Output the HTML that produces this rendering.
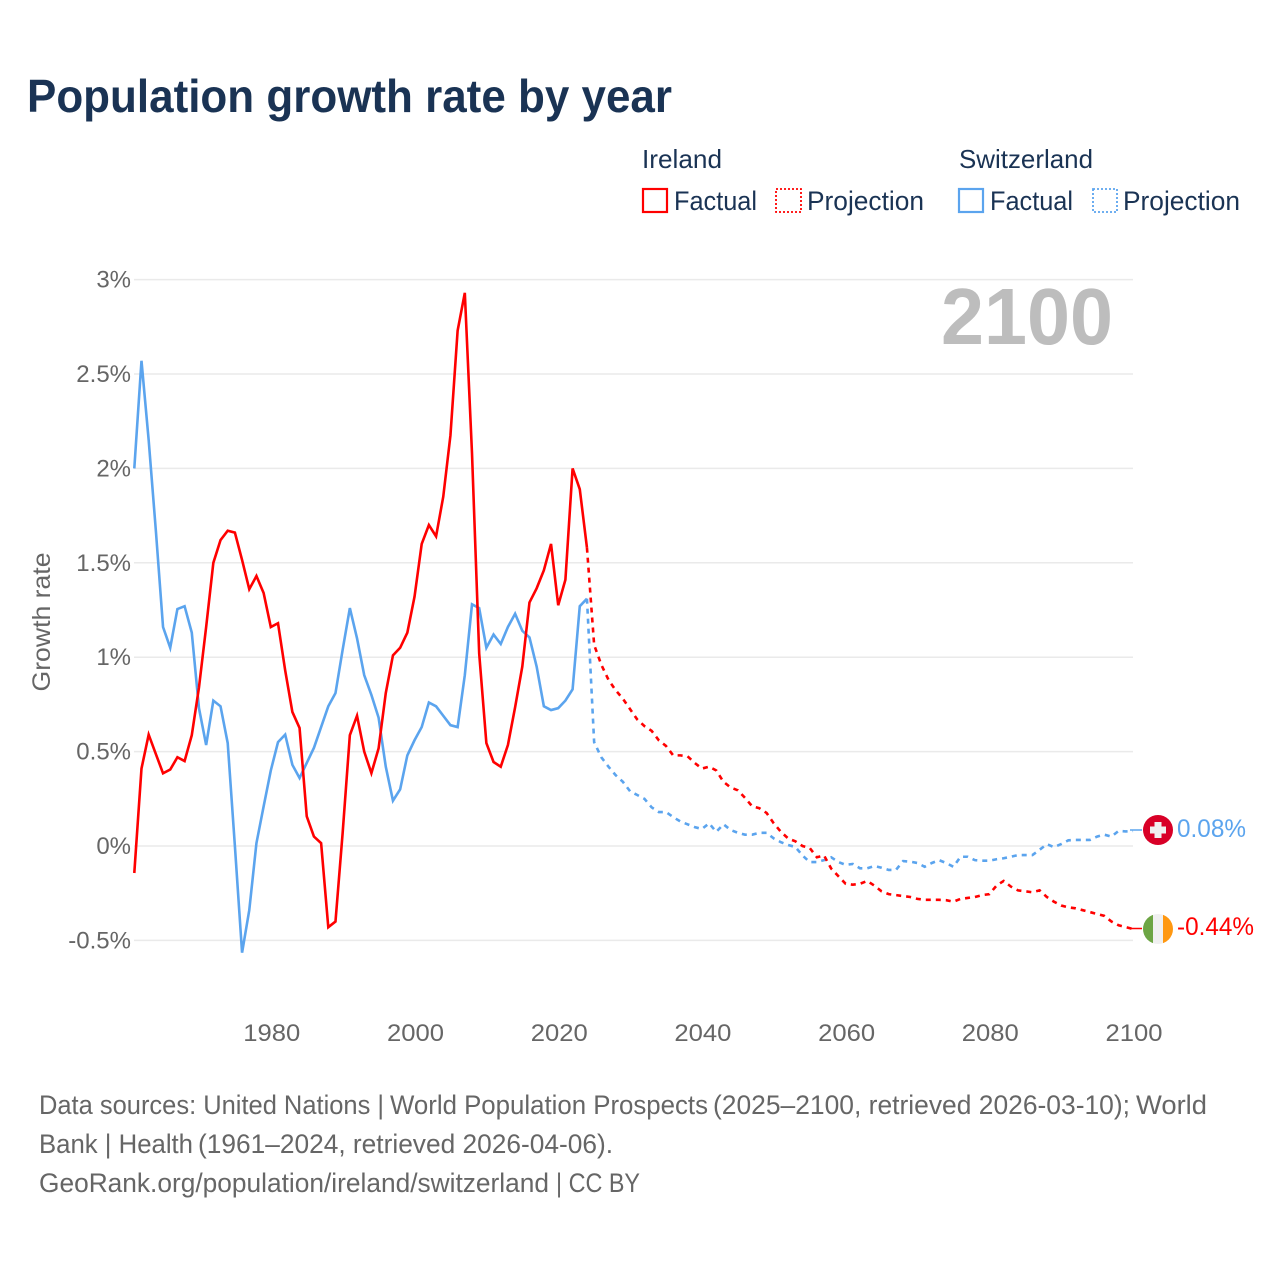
<!DOCTYPE html>
<html lang="en">
<head>
<meta charset="utf-8">
<title>Population growth rate by year</title>
<style>
html,body{margin:0;padding:0;background:#fff;}
svg{display:block;}
text{font-family:"Liberation Sans",sans-serif;}
</style>
</head>
<body>
<svg id="chart" width="1280" height="1280" viewBox="0 0 1280 1280" xmlns="http://www.w3.org/2000/svg">
  <rect x="0" y="0" width="1280" height="1280" fill="#ffffff"/>
  <text x="27" y="112" font-size="46" font-weight="700" fill="#1a3354" textLength="645" lengthAdjust="spacingAndGlyphs">Population growth rate by year</text>

  <text x="642" y="168" font-size="26" fill="#1a3354" textLength="80" lengthAdjust="spacingAndGlyphs">Ireland</text>
  <rect x="643" y="189" width="24" height="23" fill="none" stroke="#ff0000" stroke-width="2.2"/>
  <text x="674" y="210" font-size="27" fill="#1a3354" textLength="83" lengthAdjust="spacingAndGlyphs">Factual</text>
  <rect x="776" y="189" width="25" height="23" fill="none" stroke="#ff0000" stroke-width="1.8" stroke-dasharray="2 2"/>
  <text x="807" y="210" font-size="27" fill="#1a3354" textLength="117" lengthAdjust="spacingAndGlyphs">Projection</text>

  <text x="959" y="168" font-size="26" fill="#1a3354" textLength="134" lengthAdjust="spacingAndGlyphs">Switzerland</text>
  <rect x="959" y="189" width="24" height="23" fill="none" stroke="#5ba4ee" stroke-width="2.2"/>
  <text x="990" y="210" font-size="27" fill="#1a3354" textLength="83" lengthAdjust="spacingAndGlyphs">Factual</text>
  <rect x="1093" y="189" width="24" height="23" fill="none" stroke="#5ba4ee" stroke-width="1.8" stroke-dasharray="2 2"/>
  <text x="1123" y="210" font-size="27" fill="#1a3354" textLength="117" lengthAdjust="spacingAndGlyphs">Projection</text>

  <g id="grid"></g>
  <g id="yticks"></g>
  <g id="xticks"></g>

  <text transform="translate(50 622) rotate(-90)" text-anchor="middle" font-size="25" fill="#666666" textLength="139" lengthAdjust="spacingAndGlyphs">Growth rate</text>
  <text x="941" y="344" font-size="80" font-weight="700" fill="#bdbdbd" textLength="172" lengthAdjust="spacingAndGlyphs">2100</text>

  <g id="series"></g>

  <g>
    <line x1="1130" y1="830" x2="1142" y2="830" stroke="#5ba4ee" stroke-width="1.5"/>
    <circle cx="1158" cy="830" r="15" fill="#d80027"/>
    <rect x="1150" y="826.5" width="16" height="7" fill="#f0f0f0"/>
    <rect x="1154.5" y="822" width="7" height="16" fill="#f0f0f0"/>
  </g>
  <text x="1177" y="837" font-size="25" fill="#5ba4ee" textLength="69" lengthAdjust="spacingAndGlyphs">0.08%</text>

  <g>
    <line x1="1130" y1="928.5" x2="1142" y2="928.5" stroke="#ff0000" stroke-width="1.5"/>
    <clipPath id="ie-clip"><circle cx="1158" cy="929" r="15"/></clipPath>
    <g clip-path="url(#ie-clip)">
      <rect x="1143" y="914" width="10" height="30" fill="#6da544"/>
      <rect x="1153" y="914" width="10" height="30" fill="#f0f0f0"/>
      <rect x="1163" y="914" width="10" height="30" fill="#ff9811"/>
    </g>
  </g>
  <text x="1177" y="935" font-size="25" fill="#ff0000" textLength="77" lengthAdjust="spacingAndGlyphs">-0.44%</text>

  <text x="39" y="1114" font-size="27" fill="#666666"><tspan x="39" textLength="345" lengthAdjust="spacingAndGlyphs">Data sources: United Nations |</tspan> <tspan x="390" textLength="318" lengthAdjust="spacingAndGlyphs">World Population Prospects</tspan> <tspan x="713" textLength="417" lengthAdjust="spacingAndGlyphs">(2025–2100, retrieved 2026-03-10);</tspan> <tspan x="1136" textLength="71" lengthAdjust="spacingAndGlyphs">World</tspan></text>
  <text x="39" y="1153" font-size="27" fill="#666666"><tspan x="39" textLength="154" lengthAdjust="spacingAndGlyphs">Bank | Health</tspan> <tspan x="198" textLength="415" lengthAdjust="spacingAndGlyphs">(1961–2024, retrieved 2026-04-06).</tspan></text>
  <text x="39" y="1192" font-size="27" fill="#666666"><tspan x="39" textLength="510" lengthAdjust="spacingAndGlyphs">GeoRank.org/population/ireland/switzerland</tspan> <tspan x="556" textLength="84" lengthAdjust="spacingAndGlyphs">| CC BY</tspan></text>
</svg>
<script>
const factualStartYear = 1961;
const projectionStartYear = 2025;
const xTickValues = [1980, 2000, 2020, 2040, 2060, 2080, 2100];
const xTickLabels = ["1980", "2000", "2020", "2040", "2060", "2080", "2100"];
const yTickValues = [-0.5, 0, 0.5, 1, 1.5, 2, 2.5, 3];
const yTickLabels = ["-0.5%", "0%", "0.5%", "1%", "1.5%", "2%", "2.5%", "3%"];

const irelandFactual = [-0.143,0.41,0.59,0.487,0.385,0.405,0.47,0.45,0.587,0.84,1.16,1.5,1.62,1.67,1.66,1.515,1.36,1.43,1.34,1.16,1.18,0.93,0.71,0.625,0.157,0.05,0.015,-0.43,-0.40,0.07,0.587,0.69,0.50,0.386,0.517,0.81,1.01,1.05,1.13,1.32,1.6,1.70,1.64,1.85,2.175,2.73,2.93,2.08,1.02,0.545,0.445,0.42,0.535,0.735,0.95,1.29,1.365,1.46,1.60,1.275,1.41,2.0,1.89,1.58];

const switzerlandFactual = [2.0,2.57,2.15,1.67,1.16,1.05,1.255,1.27,1.13,0.73,0.535,0.77,0.74,0.545,0.0,-0.565,-0.34,0.015,0.21,0.40,0.55,0.59,0.43,0.36,0.44,0.52,0.63,0.74,0.81,1.04,1.26,1.10,0.905,0.80,0.68,0.42,0.24,0.30,0.48,0.56,0.63,0.76,0.74,0.69,0.64,0.63,0.905,1.28,1.26,1.05,1.12,1.07,1.16,1.23,1.14,1.105,0.95,0.74,0.72,0.73,0.77,0.83,1.27,1.31];

const irelandProjection = [1.065,0.96,0.88,0.825,0.78,0.725,0.67,0.635,0.61,0.56,0.53,0.48,0.48,0.475,0.44,0.41,0.42,0.40,0.34,0.31,0.295,0.255,0.21,0.20,0.175,0.12,0.075,0.04,0.025,0.0,-0.01,-0.06,-0.05,-0.12,-0.16,-0.2,-0.205,-0.2,-0.185,-0.21,-0.24,-0.255,-0.26,-0.265,-0.27,-0.28,-0.285,-0.285,-0.285,-0.287,-0.295,-0.28,-0.275,-0.27,-0.26,-0.255,-0.21,-0.185,-0.215,-0.235,-0.24,-0.245,-0.235,-0.27,-0.295,-0.315,-0.325,-0.33,-0.34,-0.35,-0.36,-0.37,-0.40,-0.42,-0.43,-0.44];

const switzerlandProjection = [0.55,0.47,0.42,0.375,0.34,0.29,0.27,0.25,0.205,0.18,0.18,0.153,0.13,0.115,0.10,0.09,0.12,0.075,0.115,0.085,0.07,0.06,0.06,0.07,0.07,0.04,0.02,0.005,-0.005,-0.05,-0.085,-0.085,-0.075,-0.06,-0.085,-0.10,-0.095,-0.118,-0.118,-0.106,-0.115,-0.127,-0.127,-0.08,-0.083,-0.09,-0.11,-0.09,-0.075,-0.09,-0.11,-0.057,-0.057,-0.075,-0.078,-0.078,-0.07,-0.065,-0.057,-0.048,-0.048,-0.048,-0.02,0.01,-0.006,0.01,0.03,0.032,0.032,0.032,0.05,0.06,0.05,0.08,0.077,0.08];

const SVG_NS = "http://www.w3.org/2000/svg";
function xScale(year) { return 134.3 + (year - 1961) * 7.185; }
function yScale(value) { return 846 - value * 188.8; }

function linePath(startYear, values, prefix) {
  let d = prefix || "";
  values.forEach(function (v, i) {
    const cmd = (d === "") ? "M" : "L";
    d += cmd + xScale(startYear + i).toFixed(2) + " " + yScale(v).toFixed(2);
  });
  return d;
}

const gridGroup = document.getElementById("grid");
const yTickGroup = document.getElementById("yticks");
yTickValues.forEach(function (v, i) {
  const gl = document.createElementNS(SVG_NS, "line");
  
  
  gl.setAttribute("x1", 134);
  gl.setAttribute("x2", 1133);
  gl.setAttribute("y1", yScale(v));
  gl.setAttribute("y2", yScale(v));
  gl.setAttribute("stroke", "#eaeaea");
  gl.setAttribute("stroke-width", "1.5");
  gridGroup.appendChild(gl);

  const t = document.createElementNS(SVG_NS, "text");
  
  
  t.setAttribute("x", 131);
  t.setAttribute("y", yScale(v) + 8);
  t.setAttribute("text-anchor", "end");
  t.setAttribute("font-size", "24");
  t.setAttribute("fill", "#666666");
  t.textContent = yTickLabels[i];
  yTickGroup.appendChild(t);
});

const xTickGroup = document.getElementById("xticks");
xTickValues.forEach(function (v, i) {
  const t = document.createElementNS(SVG_NS, "text");
  
  
  t.setAttribute("x", xScale(v) + 1);
  t.setAttribute("y", 1041);
  t.setAttribute("text-anchor", "middle");
  t.setAttribute("font-size", "24");
  t.setAttribute("fill", "#666666");
  t.setAttribute("textLength", "57");
  t.setAttribute("lengthAdjust", "spacingAndGlyphs");
  t.textContent = xTickLabels[i];
  xTickGroup.appendChild(t);
});

const seriesGroup = document.getElementById("series");
const RED = "#ff0000";
const BLUE = "#5ba4ee";

const swissFactualLine = document.createElementNS(SVG_NS, "path");


swissFactualLine.setAttribute("d", linePath(factualStartYear, switzerlandFactual));
swissFactualLine.setAttribute("fill", "none");
swissFactualLine.setAttribute("stroke", BLUE);
swissFactualLine.setAttribute("stroke-width", "2.6");
seriesGroup.appendChild(swissFactualLine);

const swissProjectionLine = document.createElementNS(SVG_NS, "path");


const swissLastYear = factualStartYear + switzerlandFactual.length - 1;
const swissLast = switzerlandFactual[switzerlandFactual.length - 1];
swissProjectionLine.setAttribute("d", linePath(projectionStartYear, switzerlandProjection, "M" + xScale(swissLastYear).toFixed(2) + " " + yScale(swissLast).toFixed(2)));
swissProjectionLine.setAttribute("fill", "none");
swissProjectionLine.setAttribute("stroke", BLUE);
swissProjectionLine.setAttribute("stroke-width", "2.6");
swissProjectionLine.setAttribute("stroke-dasharray", "5 5");
seriesGroup.appendChild(swissProjectionLine);

const irelandFactualLine = document.createElementNS(SVG_NS, "path");


irelandFactualLine.setAttribute("d", linePath(factualStartYear, irelandFactual));
irelandFactualLine.setAttribute("fill", "none");
irelandFactualLine.setAttribute("stroke", RED);
irelandFactualLine.setAttribute("stroke-width", "2.6");
seriesGroup.appendChild(irelandFactualLine);

const irelandProjectionLine = document.createElementNS(SVG_NS, "path");


const irelandLastYear = factualStartYear + irelandFactual.length - 1;
const irelandLast = irelandFactual[irelandFactual.length - 1];
irelandProjectionLine.setAttribute("d", linePath(projectionStartYear, irelandProjection, "M" + xScale(irelandLastYear).toFixed(2) + " " + yScale(irelandLast).toFixed(2)));
irelandProjectionLine.setAttribute("fill", "none");
irelandProjectionLine.setAttribute("stroke", RED);
irelandProjectionLine.setAttribute("stroke-width", "2.6");
irelandProjectionLine.setAttribute("stroke-dasharray", "5 5");
seriesGroup.appendChild(irelandProjectionLine);
</script>
</body>
</html>
